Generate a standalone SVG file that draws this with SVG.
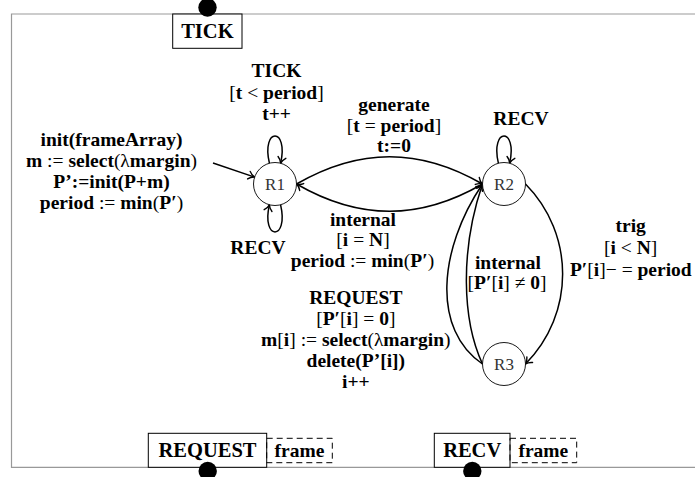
<svg xmlns="http://www.w3.org/2000/svg" width="695" height="477" viewBox="0 0 695 477">
<style>
.lbl{font-family:"Liberation Serif","Times New Roman",serif;font-weight:bold;font-size:19.5px;text-anchor:middle;fill:#000}
.port{font-size:20.5px}
.n{font-weight:normal}
.st{font-family:"Liberation Serif","Times New Roman",serif;font-size:17px;fill:#333;text-anchor:middle}
.state circle{fill:#fff;stroke:#000;stroke-width:0.9}
.edge{fill:none;stroke:#000;stroke-width:1.5;marker-end:url(#arr)}
.box{fill:#fff;stroke:#000;stroke-width:1}
.dbox{fill:none;stroke:#000;stroke-width:1;stroke-dasharray:6 4}
.pin{fill:#000}
</style>
<defs>
<marker id="arr" markerUnits="userSpaceOnUse" markerWidth="14" markerHeight="14" viewBox="-7 -7 14 14" refX="0" refY="0" orient="auto" overflow="visible">
<path d="M -6,-4 C -4,-1.5 -1.5,-0.4 0,0 C -1.5,0.4 -4,1.5 -6,4" fill="none" stroke="#000" stroke-width="1.4" stroke-linecap="round"/>
</marker>
</defs>
<rect width="695" height="477" fill="#fff"/>
<path d="M 700,14 H 11.5 V 467.3 H 700" fill="none" stroke="#999" stroke-width="1.2"/>

<g id="port-tick">
<rect class="box" x="172.7" y="14" width="69.3" height="34.3"/>
<text class="lbl port" x="207.4" y="38">TICK</text>
<circle class="pin" cx="207.5" cy="7.5" r="9.2"/>
</g>
<g id="port-request">
<rect class="box" x="148.3" y="433.3" width="118.4" height="34"/>
<text class="lbl port" x="207.5" y="456.5">REQUEST</text>
<rect class="dbox" x="266.7" y="438.3" width="65.6" height="24.4"/>
<text class="lbl" x="299.5" y="456.5">frame</text>
<circle class="pin" cx="207.7" cy="471" r="9.2"/>
</g>
<g id="port-recv">
<rect class="box" x="434.3" y="433.3" width="75.7" height="34"/>
<text class="lbl port" x="472.2" y="456.5">RECV</text>
<rect class="dbox" x="510" y="438.3" width="66.7" height="24.4"/>
<text class="lbl" x="543.3" y="456.5">frame</text>
<circle class="pin" cx="472.3" cy="471" r="9.2"/>
</g>

<g id="connectors">
<path class="edge" d="M 213,163 L 254.6,177.1"/>
<path class="edge" d="M 269.4,163.2 C 261,127 289,127 280.6,163.2"/>
<path class="edge" d="M 280.6,204.8 C 289,241 261,241 269.4,204.8"/>
<path class="edge" d="M 498.4,163.2 C 490,127 518,127 509.6,163.2"/>
<path class="edge" d="M 296.5,184 C 359.5,147.6 419.5,147.6 482.5,184"/>
<path class="edge" d="M 482.5,184 C 419.5,220.4 359.5,220.4 296.5,184"/>
<path class="edge" d="M 525.5,184 C 575,234 575,314 525.5,364"/>
<path class="edge" d="M 482.5,364 C 432,330 438,250 482.5,184"/>
<path class="edge" d="M 482.5,364 C 462,320 460,250 482.5,184"/>
</g>

<g id="R1" class="state"><circle cx="275" cy="184" r="21.5"/><text class="st" x="275" y="190">R1</text></g>
<g id="R2" class="state"><circle cx="504" cy="184" r="21.5"/><text class="st" x="504" y="190">R2</text></g>
<g id="R3" class="state"><circle cx="504" cy="364" r="21.5"/><text class="st" x="504" y="370">R3</text></g>

<g id="labels">
<text class="lbl" x="111.5" y="146">init(frameArray)</text>
<text class="lbl" x="111.5" y="167">m <tspan class="n">:=</tspan> select<tspan class="n">(λ</tspan>margin<tspan class="n">)</tspan></text>
<text class="lbl" x="111.5" y="188">P’:=init(P+m)</text>
<text class="lbl" x="111.5" y="209">period <tspan class="n">:=</tspan> min<tspan class="n">(</tspan>P′<tspan class="n">)</tspan></text>

<text class="lbl" x="276.5" y="77">TICK</text>
<text class="lbl" x="276.5" y="98.5"><tspan class="n">[</tspan>t <tspan class="n">&lt;</tspan> period<tspan class="n">]</tspan></text>
<text class="lbl" x="276.5" y="119.5">t++</text>

<text class="lbl" x="258" y="254">RECV</text>

<text class="lbl" x="394" y="110.5">generate</text>
<text class="lbl" x="394" y="131.5"><tspan class="n">[</tspan>t <tspan class="n">=</tspan> period<tspan class="n">]</tspan></text>
<text class="lbl" x="394" y="151.5">t:=0</text>

<text class="lbl" x="521" y="124.5">RECV</text>

<text class="lbl" x="363" y="225.5">internal</text>
<text class="lbl" x="363" y="245.5"><tspan class="n">[</tspan>i <tspan class="n">=</tspan> N<tspan class="n">]</tspan></text>
<text class="lbl" x="362.5" y="266.5">period <tspan class="n">:=</tspan> min<tspan class="n">(</tspan>P′<tspan class="n">)</tspan></text>

<text class="lbl" x="355.8" y="304">REQUEST</text>
<text class="lbl" x="355.8" y="325"><tspan class="n">[</tspan>P′<tspan class="n">[</tspan>i<tspan class="n">]</tspan> <tspan class="n">=</tspan> 0<tspan class="n">]</tspan></text>
<text class="lbl" x="355.8" y="346">m<tspan class="n">[</tspan>i<tspan class="n">]</tspan> <tspan class="n">:=</tspan> select<tspan class="n">(λ</tspan>margin<tspan class="n">)</tspan></text>
<text class="lbl" x="355.8" y="367">delete(P’[i])</text>
<text class="lbl" x="355.8" y="388">i++</text>

<text class="lbl" x="508" y="268.5">internal</text>
<text class="lbl" x="507" y="289"><tspan class="n">[</tspan>P′<tspan class="n">[</tspan>i<tspan class="n">]</tspan> <tspan class="n">≠</tspan> 0<tspan class="n">]</tspan></text>

<text class="lbl" x="630.7" y="232">trig</text>
<text class="lbl" x="630.7" y="254"><tspan class="n">[</tspan>i <tspan class="n">&lt;</tspan> N<tspan class="n">]</tspan></text>
<text class="lbl" x="630.8" y="276">P′<tspan class="n">[</tspan>i<tspan class="n">]−</tspan> <tspan class="n">=</tspan> period</text>
</g>
</svg>
